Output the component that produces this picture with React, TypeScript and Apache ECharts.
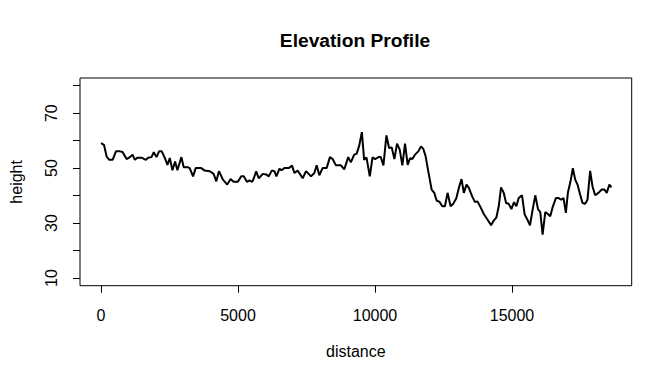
import React, { useEffect, useRef } from "react";
import * as echarts from "echarts";

const distance = [
  0, 107, 204, 301, 422, 544, 689, 786, 932, 1053, 1150, 1235, 1320, 1478, 1635, 1720, 1841, 1926, 2023, 2120,
  2217, 2327, 2424, 2509, 2606, 2703, 2788, 2933, 3018, 3176, 3236, 3358, 3455, 3661, 3782, 3964, 4110, 4207,
  4304, 4449, 4607, 4728, 4838, 4995, 5117, 5214, 5323, 5420, 5517, 5577, 5662, 5759, 5905, 6026, 6123, 6232,
  6329, 6402, 6512, 6584, 6693, 6851, 6972, 7057, 7178, 7361, 7482, 7664, 7785, 7870, 7967, 8088, 8234, 8355,
  8452, 8574, 8756, 8877, 9022, 9119, 9241, 9326, 9423, 9520, 9604, 9689, 9810, 9908, 10004, 10126, 10211,
  10308, 10417, 10514, 10611, 10708, 10805, 10902, 10999, 11096, 11193, 11278, 11363, 11460, 11581, 11678,
  11763, 11848, 11945, 12067, 12164, 12249, 12358, 12455, 12552, 12649, 12758, 12855, 12964, 13061, 13158,
  13243, 13340, 13425, 13547, 13644, 13741, 13850, 13971, 14092, 14238, 14335, 14432, 14517, 14602, 14699,
  14784, 14881, 14978, 15075, 15160, 15245, 15366, 15463, 15560, 15657, 15754, 15851, 15948, 16033, 16118,
  16215, 16312, 16397, 16494, 16603, 16700, 16797, 16882, 16967, 17040, 17137, 17222, 17307, 17392, 17489,
  17574, 17671, 17756, 17853, 17938, 18035, 18156, 18277, 18374, 18458, 18555, 18630,
];

const height = [
  59.1, 58.5, 54.2, 53.0, 53.0, 56.1, 56.1, 55.9, 53.3, 54.0, 54.9, 53.0, 53.8, 53.8, 53.0, 53.8, 54.0, 55.8, 54.0, 56.1,
  56.1, 53.7, 51.2, 53.7, 49.2, 52.4, 49.2, 54.0, 50.3, 50.3, 50.0, 47.0, 50.0, 50.0, 49.1, 48.9, 47.9, 45.2,
  48.9, 45.8, 44.0, 46.0, 45.0, 45.0, 47.0, 47.0, 45.0, 45.5, 45.0, 46.3, 48.8, 46.3, 47.9, 47.7, 47.0, 49.1,
  48.9, 47.0, 49.8, 49.2, 50.0, 50.0, 50.9, 48.2, 49.1, 46.3, 48.9, 47.0, 48.2, 51.0, 47.4, 50.0, 50.0, 54.0,
  53.3, 51.0, 51.0, 49.5, 54.0, 52.1, 54.9, 55.2, 58.1, 63.1, 53.0, 53.9, 47.0, 53.9, 53.3, 54.0, 54.0,
  51.0, 61.9, 57.3, 57.5, 53.3, 58.9, 56.7, 51.0, 58.9, 51.2, 53.6, 53.3, 54.9, 56.1, 57.9,
  57.0, 54.3, 48.8, 42.2, 41.0, 38.2, 37.7, 36.1, 36.1, 41.0, 36.1, 37.0, 38.9, 42.8, 46.0,
  41.0, 44.0, 42.8, 39.7, 37.7, 37.9, 35.8, 33.3, 31.5, 29.2, 30.9, 32.1, 36.1, 43.0, 41.0,
  37.3, 37.0, 35.1, 37.6, 36.1, 39.1, 40.1, 33.1, 31.3, 29.2, 34.9, 40.1, 35.1, 34.0, 25.8,
  34.0, 33.3, 32.5, 36.1, 39.1, 39.1, 38.5, 39.1, 33.7, 41.0, 45.2, 50.0, 45.8, 44.0, 40.3,
  37.3, 37.0, 38.5, 49.0, 43.4, 40.1, 41.0, 42.2, 42.2, 41.0, 44.0, 43.0,
];

const xTicks = [0, 5000, 10000, 15000];
const yTicks = [10, 20, 30, 40, 50, 60, 70, 80];
const yLabels = [10, 30, 50, 70];

const FONT = "'Liberation Sans', Arial, Helvetica, sans-serif";

export default function App() {
  const ref = useRef<HTMLDivElement>(null);
  useEffect(() => {
    if (!ref.current) return;
    const chart = echarts.init(ref.current, null, { renderer: "svg" });
    const data = distance.map((d, i) => [d, height[i]]);
    chart.setOption({
      animation: false,
      backgroundColor: "#ffffff",
      textStyle: { fontFamily: FONT },
      grid: {
        show: true,
        left: 78.3,
        right: 40.3,
        top: 78,
        bottom: 98.3,
        borderColor: "#000",
        borderWidth: 1,
        backgroundColor: "transparent",
      },
      graphic: [
        {
          type: "text",
          x: 355,
          y: 40,
          style: {
            text: "Elevation Profile",
            textAlign: "center",
            textVerticalAlign: "middle",
            fontFamily: FONT,
            fontWeight: "bold",
            fontSize: 19.2,
            fill: "#000",
          },
        },
      ],
      xAxis: {
        type: "value",
        min: -768,
        max: 19370,
        name: "distance",
        nameLocation: "middle",
        nameGap: 58,
        nameTextStyle: { fontSize: 16, color: "#000", fontFamily: FONT },
        axisLine: { show: false, onZero: false },
        splitLine: { show: false },
        axisTick: {
          show: true,
          length: 7,
          inside: false,
          customValues: xTicks,
          lineStyle: { color: "#000", width: 1 },
        },
        axisLabel: {
          customValues: xTicks,
          formatter: (v: number) => String(v),
          margin: 22,
          fontSize: 16,
          color: "#000",
          fontFamily: FONT,
          showMinLabel: true,
          showMaxLabel: true,
        },
      },
      yAxis: {
        type: "value",
        min: 7.2,
        max: 82.8,
        name: "height",
        nameLocation: "middle",
        nameGap: 56,
        nameRotate: 90,
        nameTextStyle: { fontSize: 16, color: "#000", fontFamily: FONT },
        axisLine: { show: false, onZero: false },
        splitLine: { show: false },
        axisTick: {
          show: true,
          length: 7,
          inside: false,
          customValues: yTicks,
          lineStyle: { color: "#000", width: 1 },
        },
        axisLabel: {
          customValues: yLabels,
          formatter: (v: number) => String(v),
          rotate: 90,
          margin: 21,
          fontSize: 16,
          color: "#000",
          fontFamily: FONT,
        },
      },
      series: [
        {
          type: "line",
          data,
          showSymbol: false,
          symbol: "none",
          lineStyle: { color: "#000", width: 2 },
          silent: true,
        },
      ],
    });
    return () => chart.dispose();
  }, []);
  return (
    <div
      ref={ref}
      style={{ position: "fixed", left: 0, top: 0, width: 672, height: 384, background: "#fff" }}
    />
  );
}
